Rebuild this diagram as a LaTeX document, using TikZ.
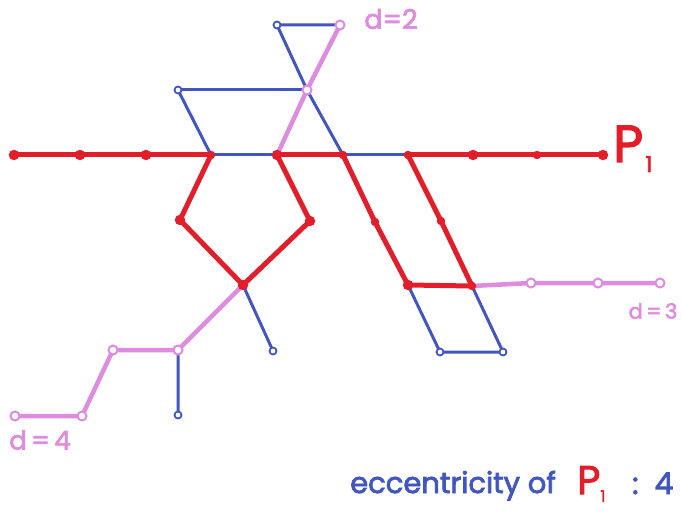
\documentclass[tikz,border=0pt]{standalone}
\usepackage{fontspec}
\setmainfont{Poppins}[FakeBold=2.6]
\definecolor{gblue}{RGB}{66,86,192}
\definecolor{pred}{RGB}{226,30,42}
\definecolor{dpink}{RGB}{221,140,223}
\begin{document}
\begin{tikzpicture}[x=1pt,y=-1pt,
  reddot/.style={circle,fill=pred,inner sep=0pt,minimum size=10.5pt},
  bluering/.style={circle,draw=gblue,fill=white,line width=1.8pt,inner sep=0pt,minimum size=7pt},
  pinkring/.style={circle,draw=dpink,fill=white,line width=2pt,inner sep=0pt,minimum size=9pt},
  bedge/.style={draw=gblue,line width=3pt,line cap=round,line join=round},
  redge/.style={draw=pred,line width=5pt,line cap=round,line join=round},
  pedge/.style={draw=dpink,line width=4.5pt,line cap=round,line join=round},
  lbl/.style={inner sep=0pt},
]
\useasboundingbox (0,0) rectangle (682,521);

% vertex positions
\coordinate (h1) at (14,155);  \coordinate (h2) at (80,155);
\coordinate (h3) at (146,155); \coordinate (h4) at (211,155);
\coordinate (h5) at (277,155); \coordinate (h6) at (343,155);
\coordinate (h7) at (408,155); \coordinate (h8) at (473,155);
\coordinate (h9) at (537,155); \coordinate (h10) at (603,155);
\coordinate (tl) at (178,90);  \coordinate (tm) at (307,90);
\coordinate (t1) at (277,25);  \coordinate (t2) at (340,25);
\coordinate (pl) at (180,220); \coordinate (pr) at (310,221);
\coordinate (pb) at (243,285);
\coordinate (b1) at (273,351); \coordinate (b2) at (178,350);
\coordinate (b3) at (178,415); \coordinate (b4) at (113,350);
\coordinate (b5) at (82,416);  \coordinate (b6) at (15,416);
\coordinate (r1) at (375,222); \coordinate (r2) at (441,221);
\coordinate (r3) at (408,285); \coordinate (r4) at (472,286);
\coordinate (r5) at (531,283); \coordinate (r6) at (598,283);
\coordinate (r7) at (660,283);
\coordinate (q1) at (440,352); \coordinate (q2) at (503,352);

% the graph
\path[bedge] (h1) -- (h2) -- (h3) -- (h4) -- (h5) -- (h6) -- (h7) -- (h8) -- (h9) -- (h10);
\path[bedge] (t1) -- (t2) -- (tm) -- (h5);
\path[bedge] (t1) -- (tm) -- (h6);
\path[bedge] (tl) -- (tm);
\path[bedge] (tl) -- (h4);
\path[bedge] (h4) -- (pl) -- (pb) -- (pr) -- (h5);
\path[bedge] (h6) -- (r1) -- (r3) -- (r4) -- (r2) -- (h7);
\path[bedge] (r4) -- (r5) -- (r6) -- (r7);
\path[bedge] (r3) -- (q1) -- (q2) -- (r4);
\path[bedge] (pb) -- (b1);
\path[bedge] (pb) -- (b2) -- (b3);
\path[bedge] (b2) -- (b4) -- (b5) -- (b6);

% vertices at distance 2, 3 and 4 from the path
\begin{scope}[xshift=1.2pt,yshift=-0.6pt]
\path[pedge] (t2) -- (tm) -- (h5);
\path[pedge] (pb) -- (b2) -- (b4) -- (b5) -- (b6);
\path[pedge] (r4) -- (r5) -- (r6) -- (r7);
\end{scope}

% the path P_1
\begin{scope}[xshift=0.6pt]
\path[redge] (h1) -- (h2) -- (h3) -- (h4);
\path[redge] (h5) -- (h6);
\path[redge] (h7) -- (h8) -- (h9) -- (h10);
\path[redge] (h4) -- (pl) -- (pb) -- (pr) -- (h5);
\path[redge] (h6) -- (r1) -- (r3) -- (r4) -- (r2) -- (h7);
\end{scope}

% vertex marks
\foreach \v in {h1,h2,h3,h5,h8,h10,pl,pr,pb,r3}
  \node[reddot] (\v-m) at (\v) {};
\foreach \v in {h4,h6,h7,h9,r1,r2,r4}
  \node[reddot,minimum size=8.5pt] (\v-m) at (\v) {};
\foreach \v in {tl,t1,b1,b3,q1,q2}
  \node[bluering] (\v-m) at (\v) {};
\foreach \v in {tm,t2,b2,b4,b5,b6,r5,r6,r7}
  \node[pinkring] (\v-m) at (\v) {};

% labels
\node[lbl,text=dpink,font=\fontsize{27}{29}\selectfont] (d2) at (391,19) {d=2};
\node[lbl,text=dpink,font=\fontsize{21}{23}\selectfont] (d3) at (653,311) {d\,=\,3};
\node[lbl,text=dpink,font=\fontsize{26}{28}\selectfont] (d4) at (40,440) {d\,=\,4};
\node[lbl,text=pred,anchor=base west] (p1) at (613,162)
  {\fontsize{52}{54}\selectfont P\raisebox{-10pt}{\fontsize{22}{24}\selectfont\kern2pt 1}};

\node[lbl,text=gblue,anchor=base west,font=\fontsize{29}{31}\selectfont] (ecc) at (350,493) {eccentricity of};
\node[lbl,text=pred,anchor=base west] (ecp) at (577,494)
  {\fontsize{40}{42}\selectfont P\raisebox{-8pt}{\fontsize{16}{18}\selectfont 1}};
\node[lbl,text=gblue,anchor=base west,font=\fontsize{30}{32}\selectfont] (ecv) at (632,494) {:\ \ 4};
\end{tikzpicture}
\end{document}
